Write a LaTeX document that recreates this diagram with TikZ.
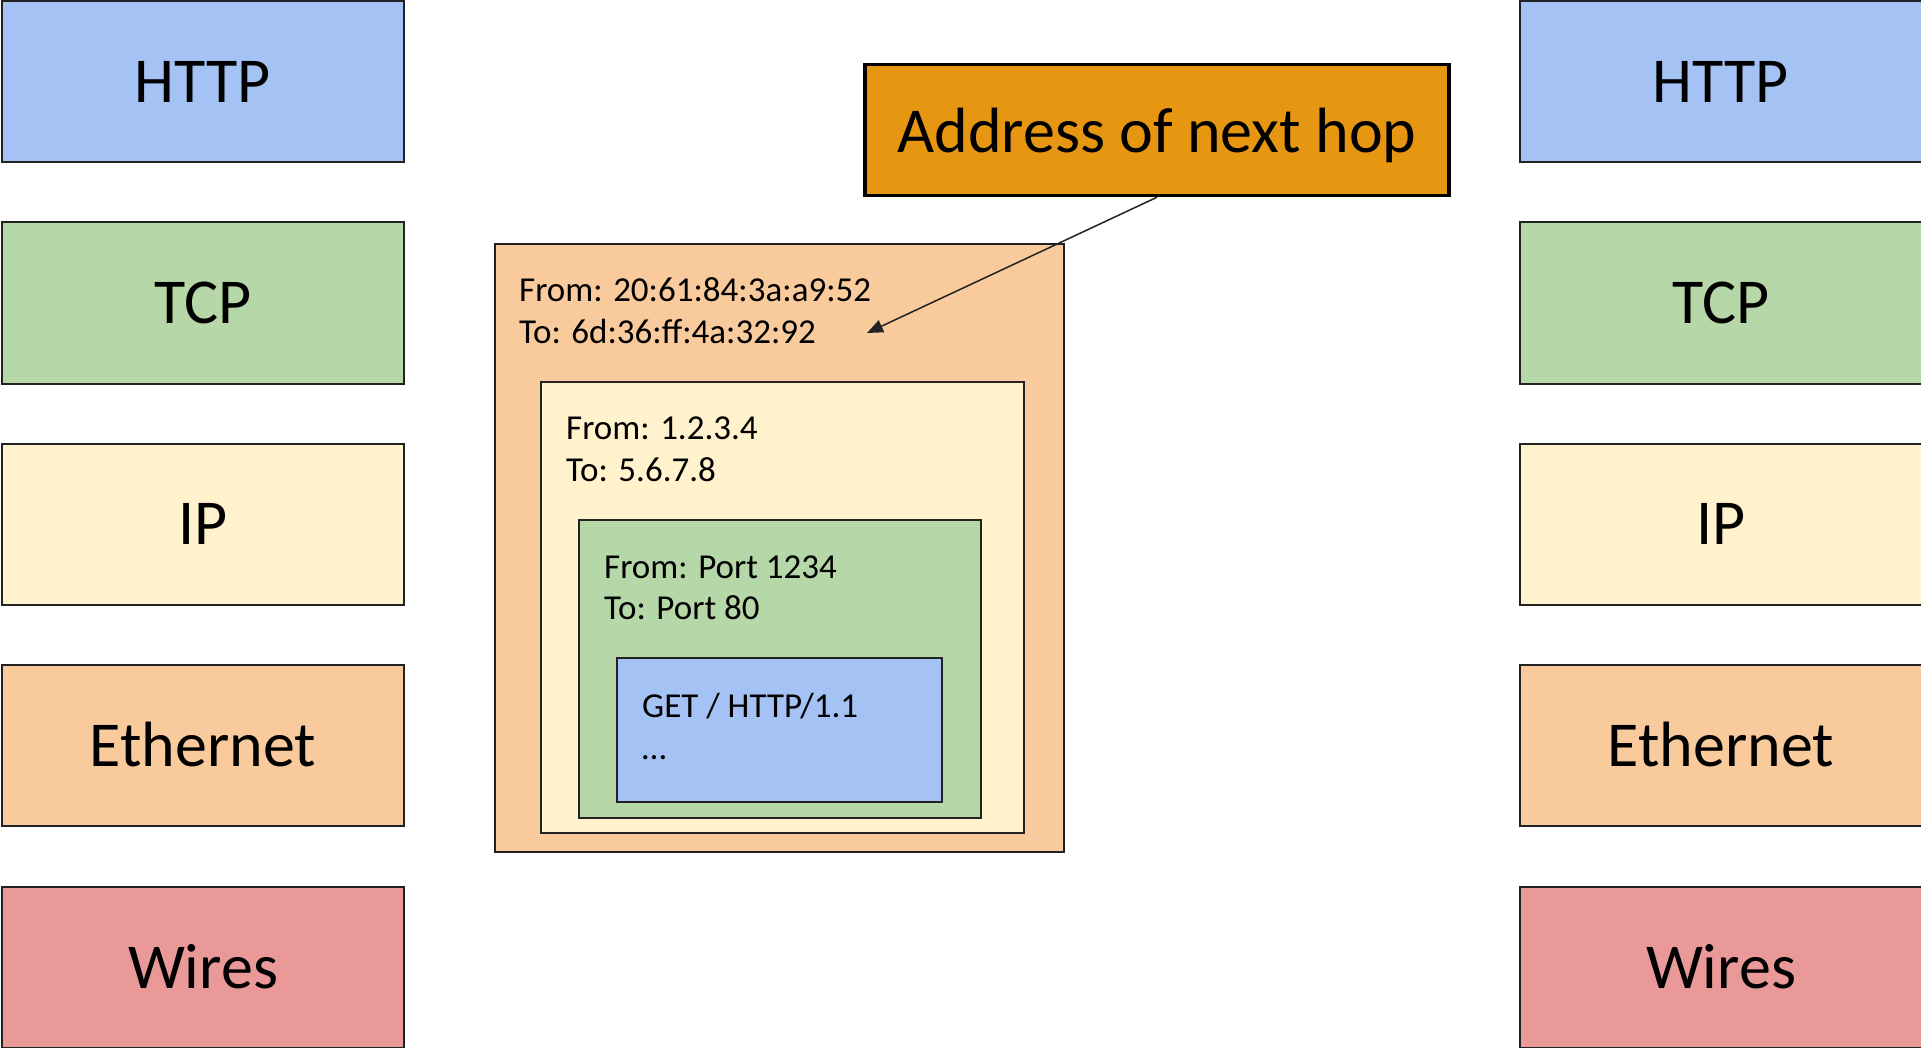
\documentclass[tikz,border=0pt]{standalone}
\usepackage{fontspec}
\setmainfont{Carlito}
\usetikzlibrary{arrows.meta}
\definecolor{httpblue}{HTML}{A4C2F4}
\definecolor{tcpgreen}{HTML}{B6D7A8}
\definecolor{ipyellow}{HTML}{FFF2CC}
\definecolor{ethorange}{HTML}{F9CB9C}
\definecolor{wirered}{HTML}{EA9999}
\definecolor{hoporange}{HTML}{E69610}
\definecolor{edge}{HTML}{222222}
\begin{document}
\begin{tikzpicture}[x=1pt,y=-1pt,
  layer/.style={draw=edge, line width=2pt, minimum width=402pt, minimum height=161pt,
    inner sep=0pt, font=\fontsize{64}{77}\selectfont},
  pktbox/.style={draw=edge, line width=2pt, inner sep=0pt, anchor=north west},
  pkttext/.style={inner sep=0pt, anchor=base west, font=\fontsize{35}{42}\selectfont},
  hopbox/.style={draw=black, line width=3.5pt, fill=hoporange, minimum width=584pt,
    minimum height=131pt, inner sep=0pt},
  hoptext/.style={inner sep=0pt, font=\fontsize{64}{77}\selectfont},
  pointer/.style={draw=edge, line width=1.5pt, -{Triangle[length=16pt,width=13pt]}}]
\useasboundingbox (0,0) rectangle (1921,1048);

% protocol stack, sender side
\node[layer, fill=httpblue]  (lhttp)  at (203,82)  {HTTP};
\node[layer, fill=tcpgreen]  (ltcp)   at (203,303) {TCP};
\node[layer, fill=ipyellow]  (lip)    at (203,524) {IP};
\node[layer, fill=ethorange] (leth)   at (203,745) {Ethernet};
\node[layer, fill=wirered]   (lwires) at (203,967) {Wires};

% protocol stack, receiver side
\node[layer, fill=httpblue]  (rhttp)  at (1721,82)  {HTTP};
\node[layer, fill=tcpgreen]  (rtcp)   at (1721,303) {TCP};
\node[layer, fill=ipyellow]  (rip)    at (1721,524) {IP};
\node[layer, fill=ethorange] (reth)   at (1721,745) {Ethernet};
\node[layer, fill=wirered]   (rwires) at (1721,967) {Wires};

% nested packet: Ethernet frame > IP packet > TCP segment > HTTP request
\node[pktbox, fill=ethorange, minimum width=569pt, minimum height=608pt] (ethframe) at (494,243) {};
\node[pktbox, fill=ipyellow,  minimum width=483pt, minimum height=451pt] (ippkt)    at (540,381) {};
\node[pktbox, fill=tcpgreen,  minimum width=402pt, minimum height=298pt] (tcpseg)   at (578,519) {};
\node[pktbox, fill=httpblue,  minimum width=325pt, minimum height=144pt] (httpreq)  at (616,657) {};

\node[pkttext] (ethfrom) at (519,302) {From: 20:61:84:3a:a9:52};
\node[pkttext] (ethto)   at (519,344) {To: 6d:36:ff:4a:32:92};
\node[pkttext] (ipfrom)  at (566,439) {From: 1.2.3.4};
\node[pkttext] (ipto)    at (566,481) {To: 5.6.7.8};
\node[pkttext] (tcpfrom) at (604,578) {From: Port 1234};
\node[pkttext] (tcpto)   at (604,619) {To: Port 80};
\node[pkttext] (httpget) at (642,717) {GET / HTTP/1.1};
\node[pkttext] (httpmore) at (642,759) {…};

% callout
\node[hopbox] (hop) at (1157,130) {};
\node[hoptext] (hoplabel) at ([yshift=-5pt]hop.center) {Address of next hop};
\coordinate (hoptarget) at (867,333);
\draw[pointer] (hop.south) -- (hoptarget);
\end{tikzpicture}
\end{document}
